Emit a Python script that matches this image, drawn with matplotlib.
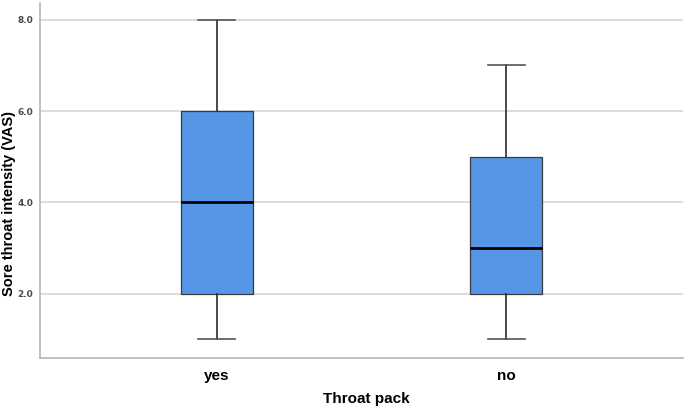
import matplotlib
matplotlib.use("Agg")
import matplotlib.pyplot as plt

# boxplot summary stats
groups = ["yes", "no"]
whislo = [1.0, 1.0]
q1 = [2.0, 2.0]
med = [4.0, 3.0]
q3 = [6.0, 5.0]
whishi = [8.0, 7.0]
yticks = [2.0, 4.0, 6.0, 8.0]

stats = [
    {"label": g, "whislo": lo, "q1": a, "med": m, "q3": b, "whishi": hi, "fliers": []}
    for g, lo, a, m, b, hi in zip(groups, whislo, q1, med, q3, whishi)
]

fig = plt.figure(figsize=(6.85, 4.09), dpi=100)
ax = fig.add_axes([0.0584, 0.1254, 0.9386, 0.8673])

ax.bxp(
    stats,
    positions=[0, 1],
    widths=0.25,
    patch_artist=True,
    showfliers=False,
    boxprops=dict(facecolor="#5596e6", edgecolor="#3a3a3a", linewidth=0.9),
    medianprops=dict(color="black", linewidth=2),
    whiskerprops=dict(color="#2b2b2b", linewidth=1.2),
    capprops=dict(color="#555555", linewidth=1.2),
    capwidths=0.128,
)

ax.set_xlim(-0.612, 1.612)
ax.set_ylim(0.60, 8.366)
ax.set_yticks(yticks)
ax.set_yticklabels([f"{v:.1f}" for v in yticks], fontsize=6.5,
                   color="#4a4a4a", fontweight="bold")
ax.set_xticks([0, 1])
ax.set_xticklabels(groups, fontsize=11, fontweight="bold",
                   family="Liberation Sans")
ax.tick_params(axis="both", length=0)
ax.tick_params(axis="x", pad=8)
ax.tick_params(axis="y", pad=5)

ax.yaxis.grid(True, color="#d6d6d6", linewidth=1.2)
ax.set_axisbelow(True)
for s in ["top", "right"]:
    ax.spines[s].set_visible(False)
for s in ["left", "bottom"]:
    ax.spines[s].set_color("#b5b5b5")
    ax.spines[s].set_linewidth(1.2)

ax.set_ylabel("Sore throat intensity (VAS)", fontsize=10.5, fontweight="bold",
              family="Liberation Sans")
ax.yaxis.set_label_coords(-0.037, 0.435)
ax.set_xlabel("Throat pack", fontsize=11, fontweight="bold",
              family="Liberation Sans")
ax.xaxis.set_label_coords(0.508, -0.097)

fig.savefig("out.png", dpi=100)
plt.close(fig)
